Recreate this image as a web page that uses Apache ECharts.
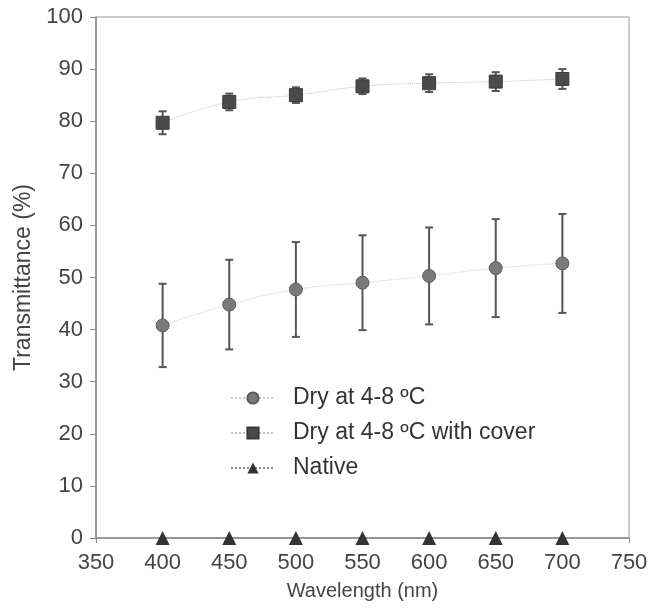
<!DOCTYPE html>
<html>
<head>
<meta charset="utf-8">
<script src="https://cdn.jsdelivr.net/npm/echarts@6/dist/echarts.min.js"></script>
<style>
html, body { margin: 0; padding: 0; background: #fff; }
#chart { width: 666px; height: 608px; }
</style>
</head>
<body>
<div id="chart"></div>
<script>
const wavelengths = [400, 450, 500, 550, 600, 650, 700]
const dryValues = [40.8, 44.8, 47.7, 49.0, 50.3, 51.8, 52.7]
const dryErrors = [8.0, 8.6, 9.1, 9.1, 9.3, 9.4, 9.5]
const coverValues = [79.7, 83.7, 85.0, 86.7, 87.3, 87.6, 88.1]
const coverErrors = [2.2, 1.6, 1.5, 1.5, 1.7, 1.8, 1.9]
const nativeValues = [0, 0, 0, 0, 0, 0, 0]
const xTicks = [350, 400, 450, 500, 550, 600, 650, 700, 750]
const yTicks = [0, 10, 20, 30, 40, 50, 60, 70, 80, 90, 100]

const font = 'Liberation Sans, Arial, sans-serif'

function pairs (vals) {
    return wavelengths.map((x, i) => [x, vals[i]])
}
function errRows (vals, errs) {
    return wavelengths.map((x, i) => [x, vals[i] - errs[i], vals[i] + errs[i]])
}

// vertical error bar with small caps
function renderErr (params, api) {
    const x = api.value(0)
    const lo = api.coord([x, api.value(1)])
    const hi = api.coord([x, api.value(2)])
    const cap = 4
    const style = { stroke: '#555', lineWidth: 2 }
    return {
        type: 'group',
        children: [
            { type: 'line', shape: { x1: lo[0], y1: lo[1], x2: hi[0], y2: hi[1] }, style: style },
            { type: 'line', shape: { x1: lo[0] - cap, y1: lo[1], x2: lo[0] + cap, y2: lo[1] }, style: style },
            { type: 'line', shape: { x1: hi[0] - cap, y1: hi[1], x2: hi[0] + cap, y2: hi[1] }, style: style }
        ]
    }
}

const myChart = echarts.init(document.getElementById('chart'))

const option = {
    animation: false,
    textStyle: { fontFamily: font },
    grid: {
        left: 96, right: 37, top: 17, bottom: 70,
        show: true, borderColor: '#999', borderWidth: 1
    },
    legend: {
        orient: 'vertical',
        left: 225,
        top: 381,
        itemWidth: 44,
        itemHeight: 14,
        itemGap: 11,
        textStyle: { fontFamily: font, fontSize: 23, lineHeight: 24, color: '#333', padding: [0, 0, 0, 13] },
        data: ['Dry at 4-8 ºC', 'Dry at 4-8 ºC with cover', 'Native']
    },
    xAxis: {
        type: 'value',
        min: 350, max: 750, interval: 50,
        name: 'Wavelength (nm)',
        nameLocation: 'middle',
        nameGap: 43,
        nameTextStyle: { fontFamily: font, fontSize: 20, color: '#444' },
        axisLine: { lineStyle: { color: '#888', width: 1.5 } },
        axisTick: { show: true, length: 5, lineStyle: { color: '#888' } },
        axisLabel: {
            fontFamily: font, fontSize: 22, color: '#444', margin: 14,
            formatter: v => xTicks.includes(v) ? String(v) : ''
        },
        splitLine: { show: false }
    },
    yAxis: {
        type: 'value',
        min: 0, max: 100, interval: 10,
        name: 'Transmittance (%)',
        nameLocation: 'middle',
        nameGap: 51,
        nameTextStyle: { fontFamily: font, fontSize: 23, color: '#444' },
        axisLine: { show: true, lineStyle: { color: '#888', width: 1.5 } },
        axisTick: { show: true, length: 6, lineStyle: { color: '#888' } },
        axisLabel: {
            fontFamily: font, fontSize: 22, color: '#444', margin: 13,
            formatter: v => yTicks.includes(v) ? String(v) : ''
        },
        splitLine: { show: false }
    },
    series: [
        {
            type: 'custom',
            renderItem: renderErr,
            data: errRows(dryValues, dryErrors),
            z: 3,
            silent: true
        },
        {
            type: 'custom',
            renderItem: renderErr,
            data: errRows(coverValues, coverErrors),
            z: 3,
            silent: true
        },
        {
            name: 'Dry at 4-8 ºC',
            type: 'line',
            data: pairs(dryValues),
            smooth: true,
            symbol: 'circle',
            symbolSize: 13,
            itemStyle: { color: '#7a7a7a', borderColor: '#5a5a5a', borderWidth: 1 },
            lineStyle: { color: '#cacaca', width: 1, type: 'dotted' },
            z: 4
        },
        {
            name: 'Dry at 4-8 ºC with cover',
            type: 'line',
            data: pairs(coverValues),
            smooth: true,
            symbol: 'rect',
            symbolSize: 13,
            itemStyle: { color: '#4a4a4a', borderColor: '#3a3a3a', borderWidth: 1 },
            lineStyle: { color: '#c0c0c0', width: 1, type: 'dotted' },
            z: 4
        },
        {
            name: 'Native',
            type: 'line',
            data: pairs(nativeValues),
            symbol: 'triangle',
            symbolSize: 14,
            clip: false,
            itemStyle: { color: '#333' },
            lineStyle: { color: '#888', width: 1, type: 'dotted' },
            z: 5
        }
    ]
}

myChart.setOption(option)
</script>
</body>
</html>
